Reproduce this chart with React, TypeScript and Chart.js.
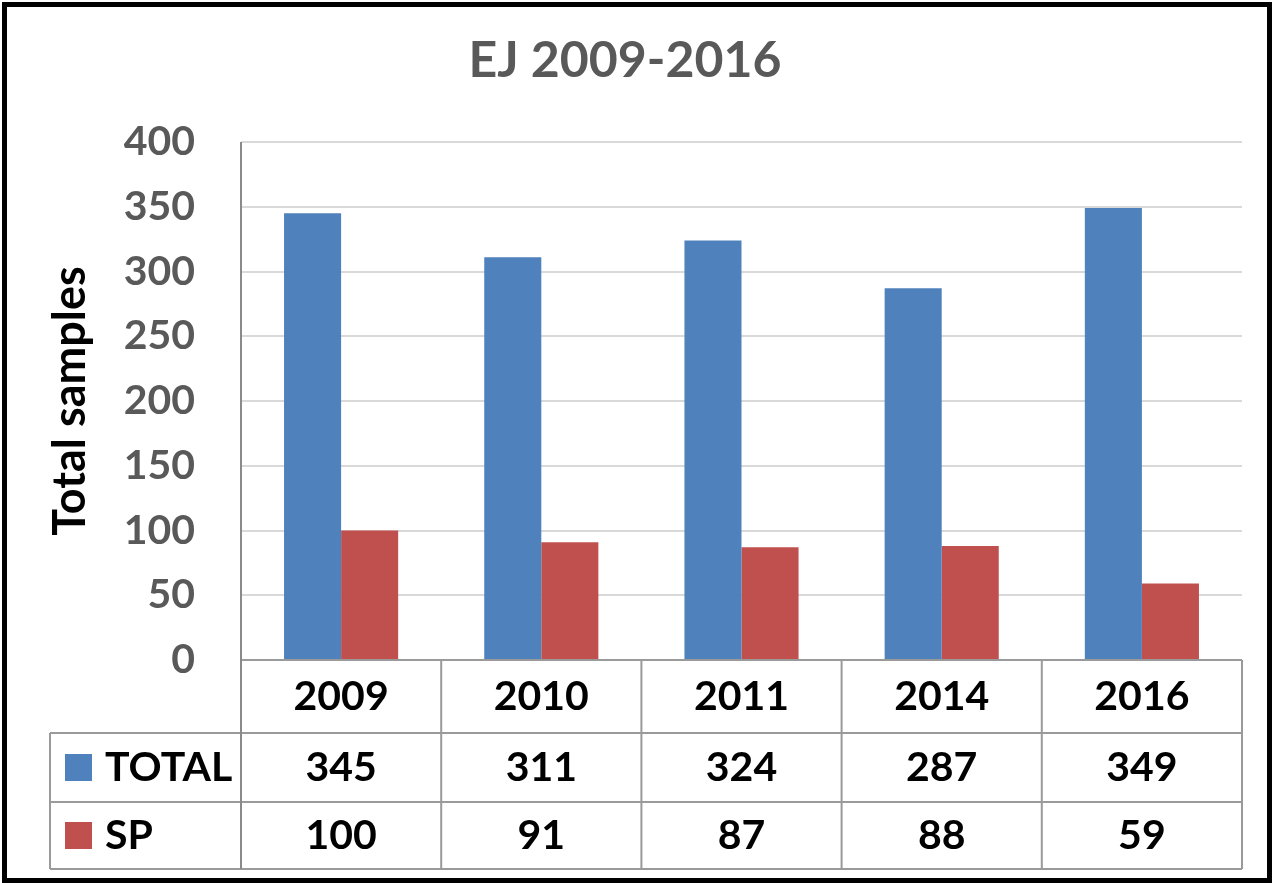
import React, { useEffect, useRef } from "react";
import { Chart, registerables } from "chart.js";

Chart.register(...registerables);

const title = "EJ 2009-2016";
const yAxisTitle = "Total samples";
const categories = ["2009", "2010", "2011", "2014", "2016"];
const seriesNames = ["TOTAL", "SP"];
const totalValues = [345, 311, 324, 287, 349];
const spValues = [100, 91, 87, 88, 59];
const seriesColors = ["#4F81BD", "#C0504D"];
const yMin = 0;
const yMax = 400;
const yStep = 50;

const FONT = "Lato, 'Open Sans', 'DejaVu Sans', sans-serif";

const tablePlugin = {
  id: "dataTable",
  afterDraw(chart: any) {
    const { ctx, chartArea } = chart;
    const xs = chart.scales.x;
    const n = categories.length;
    const left = chartArea.left;
    const right = chartArea.right;
    const cw = (right - left) / n;
    const r0 = chartArea.bottom;
    const r1 = r0 + 73;
    const r2 = r1 + 69;
    const r3 = r2 + 67;
    const tableLeft = left - 191;

    ctx.save();
    ctx.strokeStyle = "#9a9a9a";
    ctx.lineWidth = 2;
    ctx.beginPath();
    ctx.moveTo(left, r0);
    ctx.lineTo(right, r0);
    [r1, r2, r3].forEach((y) => {
      ctx.moveTo(tableLeft, y);
      ctx.lineTo(right, y);
    });
    ctx.moveTo(tableLeft, r1);
    ctx.lineTo(tableLeft, r3);
    for (let i = 1; i <= n; i++) {
      const xx = left + cw * i;
      ctx.moveTo(xx, r0);
      ctx.lineTo(xx, r3);
    }
    ctx.stroke();
    ctx.strokeStyle = "#8a8a8a";
    ctx.beginPath();
    ctx.moveTo(left, chartArea.top);
    ctx.lineTo(left, r3);
    ctx.stroke();

    ctx.fillStyle = "#000000";
    ctx.font = `bold 41px ${FONT}`;
    ctx.textAlign = "center";
    ctx.textBaseline = "middle";
    const rowsData = [totalValues, spValues];
    categories.forEach((c, i) => {
      const cx = xs.getPixelForValue(i);
      ctx.fillText(c, cx, (r0 + r1) / 2);
      ctx.fillText(String(rowsData[0][i]), cx, (r1 + r2) / 2);
      ctx.fillText(String(rowsData[1][i]), cx, (r2 + r3) / 2);
    });

    const rowCenters = [(r1 + r2) / 2, (r2 + r3) / 2];
    seriesNames.forEach((name, k) => {
      const cy = rowCenters[k];
      ctx.fillStyle = seriesColors[k];
      ctx.fillRect(tableLeft + 15, cy - 13.5, 27, 27);
      ctx.fillStyle = "#000000";
      ctx.textAlign = "left";
      ctx.fillText(name, tableLeft + 55, cy);
    });

    ctx.strokeStyle = "#000000";
    ctx.lineWidth = 5;
    ctx.strokeRect(4.5, 4.5, chart.width - 7, chart.height - 7);
    ctx.restore();
  },
};

export default function App() {
  const canvasRef = useRef<HTMLCanvasElement | null>(null);

  useEffect(() => {
    if (!canvasRef.current) return;
    const chart = new Chart(canvasRef.current, {
      type: "bar",
      data: {
        labels: categories,
        datasets: [
          {
            label: seriesNames[0],
            data: totalValues,
            backgroundColor: seriesColors[0],
            borderWidth: 0,
            categoryPercentage: 0.57,
            barPercentage: 1.0,
          },
          {
            label: seriesNames[1],
            data: spValues,
            backgroundColor: seriesColors[1],
            borderWidth: 0,
            categoryPercentage: 0.57,
            barPercentage: 1.0,
          },
        ],
      },
      options: {
        animation: false,
        responsive: true,
        maintainAspectRatio: false,
        layout: { padding: { left: 8, right: 30, top: 0, bottom: 14 } },
        plugins: {
          legend: { display: false },
          tooltip: { enabled: false },
          title: {
            display: true,
            text: title,
            color: "#595959",
            font: { family: FONT, size: 50, weight: "bold" },
            padding: { top: 31, bottom: 51 },
          },
        },
        scales: {
          x: {
            grid: { display: false },
            border: { display: false },
            ticks: { display: false },
            afterFit: (scale: any) => {
              scale.height = 209;
            },
          },
          y: {
            min: yMin,
            max: yMax,
            ticks: {
              stepSize: yStep,
              color: "#595959",
              font: { family: FONT, size: 41, weight: "bold" },
              padding: 46,
            },
            grid: { color: "#d9d9d9", lineWidth: 2, drawTicks: false },
            border: { display: false },
            title: {
              display: true,
              text: yAxisTitle,
              color: "#000000",
              font: { family: FONT, size: 45, weight: "bold" },
              padding: { top: 35, bottom: 0 },
            },
            afterFit: (scale: any) => {
              scale.width = 233;
            },
          },
        },
      },
      plugins: [tablePlugin],
    });
    if ((document as any).fonts) {
      (document as any).fonts.load(`bold 41px Lato`).then(() => chart.update());
    }
    return () => chart.destroy();
  }, []);

  return (
    <div style={{ position: "fixed", left: 0, top: 0, width: 1272, height: 883, background: "#ffffff" }}>
      <canvas ref={canvasRef} />
    </div>
  );
}
